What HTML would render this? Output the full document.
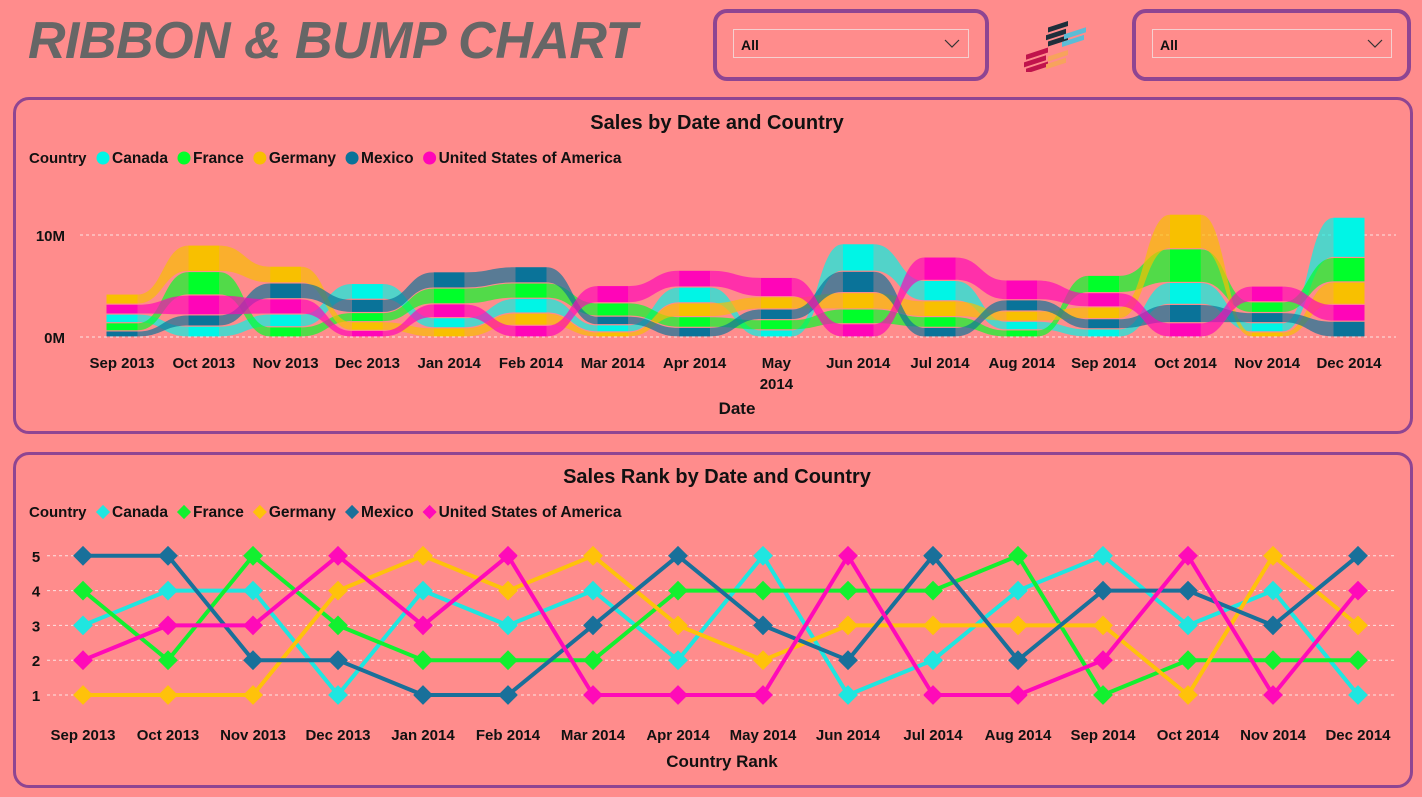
<!DOCTYPE html>
<html><head><meta charset="utf-8">
<style>
body{margin:0;width:1422px;height:797px;background:#FF8C8C;overflow:hidden;font-family:"Liberation Sans",sans-serif;}
.panel{position:absolute;border:3px solid #8E4592;border-radius:16px;box-sizing:border-box;}
.title{position:absolute;left:28px;top:11px;font-size:52px;font-weight:bold;font-style:italic;color:#666;letter-spacing:-0.5px;}
.slicer{position:absolute;border:4px solid #8E4592;border-radius:14px;box-sizing:border-box;}
.dd{position:absolute;border:1px solid #F5D0D0;box-sizing:border-box;font-weight:bold;font-size:14px;padding:7px 0 0 7px;color:#111;}
svg text{font-family:"Liberation Sans",sans-serif;font-weight:bold;fill:#111;}
</style></head><body>
<div class="title">RIBBON &amp; BUMP CHART</div>
<div class="slicer" style="left:713px;top:9px;width:276px;height:72px">
 <div class="dd" style="left:16px;top:16px;width:236px;height:29px">All<svg style="position:absolute;right:8px;top:9px" width="16" height="9"><polyline points="1,1 8,8 15,1" fill="none" stroke="#333" stroke-width="1.2"/></svg></div>
</div>
<div class="slicer" style="left:1132px;top:9px;width:279px;height:72px">
 <div class="dd" style="left:16px;top:16px;width:240px;height:29px">All<svg style="position:absolute;right:8px;top:9px" width="16" height="9"><polyline points="1,1 8,8 15,1" fill="none" stroke="#333" stroke-width="1.2"/></svg></div>
</div>
<svg style="position:absolute;left:1022px;top:20px" width="72" height="52">
 <g transform="skewY(-18)">
 <rect x="26" y="16" width="20" height="5" fill="#1E2E3A"/><rect x="24" y="23" width="20" height="5" fill="#1E2E3A"/><rect x="26" y="30" width="20" height="5" fill="#1E2E3A"/>
 <rect x="42" y="28" width="22" height="5" fill="#5BBCD6"/><rect x="40" y="35" width="22" height="5" fill="#5BBCD6"/>
 <rect x="4" y="36" width="22" height="5" fill="#C0144C"/><rect x="2" y="43" width="22" height="5" fill="#C0144C"/><rect x="4" y="50" width="22" height="5" fill="#C0144C"/>
 <rect x="26" y="45" width="20" height="5" fill="#F7A35C"/><rect x="24" y="52" width="20" height="5" fill="#F7A35C"/>
 </g>
</svg>
<div class="panel" style="left:13px;top:97px;width:1400px;height:337px"></div>
<div class="panel" style="left:13px;top:452px;width:1400px;height:336px"></div>
<svg id="chart" style="position:absolute;left:0;top:0" width="1422" height="797"></svg>
<script>
const months=["Sep 2013","Oct 2013","Nov 2013","Dec 2013","Jan 2014","Feb 2014","Mar 2014","Apr 2014","May 2014","Jun 2014","Jul 2014","Aug 2014","Sep 2014","Oct 2014","Nov 2014","Dec 2014"];
const countries=["Canada","France","Germany","Mexico","United States of America"];
const salesCanada=[0.85,1.07,1.25,1.55,1.0,1.45,0.7,1.55,0.7,2.7,2.0,0.85,0.8,2.15,0.9,3.95];
const salesFrance=[0.8,2.3,1.0,0.9,1.55,1.5,1.3,1.05,1.0,1.45,1.05,0.7,1.7,3.3,1.05,2.4];
const salesGermany=[1.0,2.6,1.65,0.85,0.9,1.2,0.5,1.35,1.2,1.6,1.55,1.0,1.15,3.4,0.5,2.2];
const salesMexico=[0.6,1.1,1.55,1.3,1.6,1.6,0.85,0.95,1.05,2.1,0.95,1.1,1.0,1.8,1.0,1.55];
const salesUSA=[0.97,1.95,1.5,0.65,1.35,1.15,1.7,1.65,1.9,1.3,2.3,1.95,1.4,1.4,1.55,1.65];
const rankCanada=[3,4,4,1,4,3,4,2,5,1,2,4,5,3,4,1];
const rankFrance=[4,2,5,3,2,2,2,4,4,4,4,5,1,2,2,2];
const rankGermany=[1,1,1,4,5,4,5,3,2,3,3,3,3,1,5,3];
const rankMexico=[5,5,2,2,1,1,3,5,3,2,5,2,4,4,3,5];
const rankUSA=[2,3,3,5,3,5,1,1,1,5,1,1,2,5,1,4];
const yTicksRibbon=[0,10];
const yTicksBump=[1,2,3,4,5];

const NS="http://www.w3.org/2000/svg";
const svg=document.getElementById('chart');
const colors=["#00F5E6","#00FF2A","#F8C000","#0A7399","#FF05B8"];
const lineColors=["#1FE6E0","#12F030","#FFC20A","#19709A","#FF0AB8"];
const sales=[salesCanada,salesFrance,salesGermany,salesMexico,salesUSA];
const ranks=[rankCanada,rankFrance,rankGermany,rankMexico,rankUSA];
function el(t,a,p){const e=document.createElementNS(NS,t);for(const k in a)e.setAttribute(k,a[k]);(p||svg).appendChild(e);return e;}
function txt(x,y,s,size,anchor,p){const t=el('text',{x:x,y:y,'font-size':size,'text-anchor':anchor||'start'},p);t.textContent=s;return t;}

// ---------- Ribbon ----------
const rx=i=>122+i*81.8;
const ry=v=>337-v*10.2;
const colW=31, gap=1.2;
const gR=el('g',{});


txt(717,129,"Sales by Date and Country",20,'middle',gR);
yTicksRibbon.forEach(t=>{
  const l=el('line',{x1:80,x2:1396,y1:ry(t),y2:ry(t),stroke:'#FBE3E3','stroke-dasharray':'3,3','stroke-width':1},gR);
  
  
  const tt=txt(65,ry(t)+6,t+"M",15,'end',gR);
  
  
});
const stacks=months.map((m,i)=>{
  const order=countries.map((c,k)=>k).sort((a,b)=>sales[a][i]-sales[b][i]);
  const res={};let base=0;
  order.forEach(k=>{const y0=ry(base);const y1=ry(base+sales[k][i]);res[k]=[y1+gap/2,y0-gap/2];base+=sales[k][i];});
  return res;
});
for(let k=0;k<5;k++){
  for(let i=0;i<months.length-1;i++){
    const a=stacks[i][k],b=stacks[i+1][k];
    const x0=rx(i)+colW/2,x1=rx(i+1)-colW/2,xm=(x0+x1)/2;
    const d=`M${x0},${a[0]} C${xm},${a[0]} ${xm},${b[0]} ${x1},${b[0]} L${x1},${b[1]} C${xm},${b[1]} ${xm},${a[1]} ${x0},${a[1]} Z`;
    const p=el('path',{d:d,fill:colors[k],opacity:0.68},gR);
    
    
  }
}
for(let i=0;i<months.length;i++){
  for(let k=0;k<5;k++){
    const s=stacks[i][k];
    const r=el('rect',{x:rx(i)-colW/2,y:s[0],width:colW,height:s[1]-s[0],fill:colors[k]},gR);
    
    
  }
  const parts=months[i]==="May 2014"?["May","2014"]:[months[i]];
  parts.forEach((p,j)=>{const t=txt(rx(i),368+j*21,p,15,'middle',gR);
    
    });
}
const dt=txt(737,414,"Date",17,'middle',gR);



function legend(y,diamond,name){
  const g=el('g',{});
  
  
  txt(29,y+5,"Country",15,'start',g);
  let x=103;
  countries.forEach((c,k)=>{
    if(diamond){el('rect',{x:x-5,y:y-5,width:10,height:10,fill:lineColors[k],transform:`rotate(45 ${x} ${y})`},g);}
    else el('circle',{cx:x,cy:y,r:6.5,fill:colors[k]},g);
    const t=txt(x+9,y+5,c,15.5,'start',g);
    
    
    x+=t.getComputedTextLength()+25;
  });
}
legend(158,false,'ribbon-legend');
legend(512,true,'bump-legend');

// ---------- Bump ----------
const bx=i=>83+i*85;
const by=r=>695-(r-1)*34.8;
const gB=el('g',{});


txt(717,483,"Sales Rank by Date and Country",20,'middle',gB);
yTicksBump.forEach(t=>{
  const l=el('line',{x1:47,x2:1396,y1:by(t),y2:by(t),stroke:'#FBE3E3','stroke-dasharray':'3,3','stroke-width':1},gB);
  
  
  const tt=txt(36,by(t)+6,String(t),15,'middle',gB);
  
  
});
months.forEach((m,i)=>{const t=txt(bx(i),740,m,15,'middle',gB);
  
  });
const ct=txt(722,767,"Country Rank",17,'middle',gB);


for(let k=0;k<5;k++){
  const pts=ranks[k].map((r,i)=>bx(i)+','+by(r)).join(' ');
  const pl=el('polyline',{points:pts,fill:'none',stroke:lineColors[k],'stroke-width':4,'stroke-linejoin':'round'},gB);
  
  
  ranks[k].forEach((r,i)=>{
    const x=bx(i),y=by(r);
    const d=el('rect',{x:x-7,y:y-7,width:14,height:14,fill:lineColors[k],transform:`rotate(45 ${x} ${y})`},gB);
    
    
  });
}
</script>
</body></html>
